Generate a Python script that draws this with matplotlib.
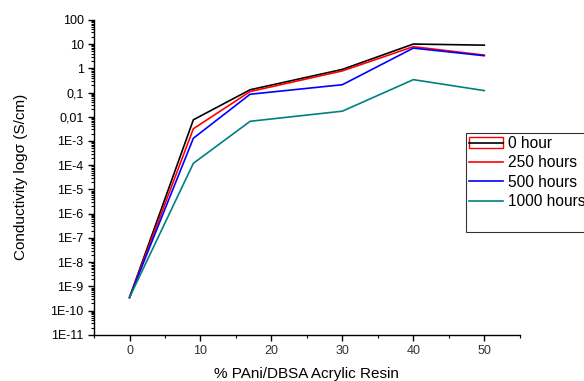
import matplotlib
matplotlib.use("Agg")
import matplotlib.pyplot as plt
from matplotlib.ticker import FixedLocator, FixedFormatter, LogLocator, MultipleLocator, NullFormatter
from matplotlib.patches import Patch
from matplotlib.lines import Line2D

plt.rcParams['font.family'] = ['Liberation Sans', 'DejaVu Sans']

# % PAni/DBSA in acrylic resin
pani = [0, 9, 17, 30, 40, 50]

# conductivity (S/cm) after ageing
h0 = [3.5e-10, 7.5e-3, 0.13, 0.9, 10.0, 9.0]
h250 = [3.5e-10, 3.2e-3, 0.11, 0.78, 7.8, 3.5]
h500 = [3.5e-10, 1.3e-3, 0.085, 0.21, 6.8, 3.3]
h1000 = [3.5e-10, 1.2e-4, 0.0065, 0.017, 0.34, 0.12]

series_labels = ["0 hour", "250 hours", "500 hours", "1000 hours"]
series_colors = ["black", "red", "blue", "#008080"]

y_ticks = [1e2, 1e1, 1e0, 1e-1, 1e-2, 1e-3, 1e-4, 1e-5, 1e-6, 1e-7, 1e-8, 1e-9, 1e-10, 1e-11]
y_tick_labels = ["100", "10", "1", "0,1", "0,01", "1E-3", "1E-4", "1E-5", "1E-6",
                 "1E-7", "1E-8", "1E-9", "1E-10", "1E-11"]

fig = plt.figure(figsize=(5.84, 3.81), dpi=100)
ax = fig.add_axes([0.161, 0.121, 0.729, 0.827])

lines = []
for vals, col in zip([h0, h250, h500, h1000], series_colors):
    ln, = ax.plot(pani, vals, color=col, lw=1.2)
    lines.append(ln)

ax.set_yscale("log")
ax.set_ylim(1e-11, 1e2)
ax.set_xlim(-5, 55)

ax.yaxis.set_major_locator(FixedLocator(y_ticks))
ax.yaxis.set_major_formatter(FixedFormatter(y_tick_labels))
ax.yaxis.set_minor_locator(LogLocator(base=10, subs=range(2, 10), numticks=30))
ax.yaxis.set_minor_formatter(NullFormatter())
ax.xaxis.set_major_locator(MultipleLocator(10))
ax.xaxis.set_minor_locator(MultipleLocator(5))

for s in ["top", "right"]:
    ax.spines[s].set_visible(False)
for s in ["left", "bottom"]:
    ax.spines[s].set_linewidth(1.0)

ax.tick_params(which="major", direction="out", length=4, width=1.0, labelsize=9, colors="black")
ax.tick_params(which="minor", direction="out", length=2.5, width=0.8)
ax.tick_params(axis="x", labelcolor="#333333")

ax.set_xlabel("% PAni/DBSA Acrylic Resin", fontsize=11, labelpad=7)
ax.set_ylabel("Conductivity log\u03c3 (S/cm)", fontsize=11, labelpad=16)

# first legend entry carries a red frame round its sample
handles = [(Patch(facecolor="none", edgecolor="red", lw=1), lines[0])] + lines[1:]
handles.append(Line2D([], [], color="none"))
labels = series_labels + [" "]
leg = fig.legend(handles, labels, loc="upper left", bbox_to_anchor=(0.798, 0.651),
                 fontsize=11.2, frameon=True, fancybox=False, edgecolor="black",
                 borderpad=0.2, labelspacing=0.28, handlelength=2.2, handletextpad=0.3,
                 borderaxespad=0)
leg.get_frame().set_linewidth(0.8)

fig.savefig("out.png", dpi=100)
